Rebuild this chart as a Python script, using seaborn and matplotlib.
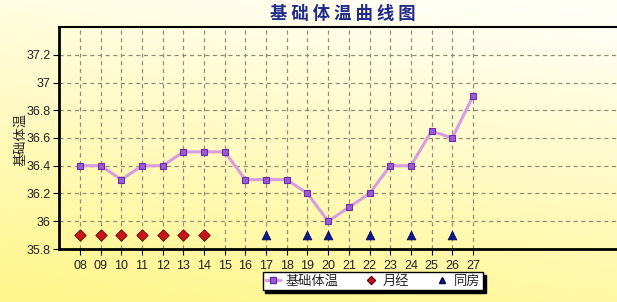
import numpy as np
import pandas as pd
import matplotlib
matplotlib.use("Agg")
import matplotlib.pyplot as plt
from matplotlib.lines import Line2D
from matplotlib.ticker import FixedLocator, FixedFormatter, NullFormatter
import seaborn as sns

# ---------------- data ----------------
days = ['08', '09', '10', '11', '12', '13', '14', '15', '16', '17',
        '18', '19', '20', '21', '22', '23', '24', '25', '26', '27']
temps = [36.4, 36.4, 36.3, 36.4, 36.4, 36.5, 36.5, 36.5, 36.3, 36.3,
         36.3, 36.2, 36.0, 36.1, 36.2, 36.4, 36.4, 36.65, 36.6, 36.9]
period_days = ['08', '09', '10', '11', '12', '13', '14']
sex_days = ['17', '19', '20', '22', '24', '26']
marker_level = 35.9
ytick_vals = [35.8, 36.0, 36.2, 36.4, 36.6, 36.8, 37.0, 37.2]
title = '基 础 体 温 曲 线 图'
ylabel = '基础体温'
legend_labels = ['基础体温', '月经', '同房']

# ---------------- style ----------------
sns.set_style("white")
plt.rcParams['font.family'] = ['Liberation Sans', 'Noto Sans CJK SC', 'DejaVu Sans']

W, H = 617, 302
fig = plt.figure(figsize=(W / 100, H / 100), dpi=100)

# gradient background
ny, nx = 200, 300
yy, xx = np.mgrid[0:1:ny * 1j, 0:1:nx * 1j]
t = np.clip(0.85 * yy + 0.25 * (1 - xx) - 0.05, 0, 1)
top = np.array([1.0, 1.0, 0.965])
bot = np.array([1.0, 0.965, 0.56])
grad = top[None, None, :] * (1 - t[..., None]) + bot[None, None, :] * t[..., None]
bg = fig.add_axes([0, 0, 1, 1], zorder=-10)
bg.imshow(grad, aspect='auto', extent=[0, 1, 0, 1], origin='upper')
bg.axis('off')

ax = fig.add_axes([59 / W, 1 - 249 / H, 1 - 59 / W, (249 - 27) / H])
ax.set_facecolor('none')

pos = list(range(len(days)))
df = pd.DataFrame({'pos': pos, 'temp': temps})
pdf = pd.DataFrame({'pos': [days.index(d) for d in period_days],
                    'y': [marker_level] * len(period_days)})
sdf = pd.DataFrame({'pos': [days.index(d) for d in sex_days],
                    'y': [marker_level] * len(sex_days)})

line_col = '#D99CE2'
sq_face = '#9B5BD6'
sq_edge = '#6A2FA8'
dia_face = '#C8151B'
dia_edge = '#6E0000'
tri_face = '#0C1A8A'

sns.lineplot(data=df, x='pos', y='temp', ax=ax, color=line_col, linewidth=2.2,
             marker='s', markersize=4.5, markerfacecolor=sq_face,
             markeredgecolor=sq_edge, markeredgewidth=0.8, legend=False, zorder=5)
sns.scatterplot(data=pdf, x='pos', y='y', ax=ax, marker='D', s=34,
                color=dia_face, edgecolor=dia_edge, linewidth=0.6, legend=False, zorder=6)
sns.scatterplot(data=sdf, x='pos', y='y', ax=ax, marker='^', s=40,
                color=tri_face, edgecolor='#000050', linewidth=0.5, legend=False, zorder=6)

unit = 20.68
ax.set_xlim(-21 / unit, (617 - 80) / unit)
ax.set_ylim(35.8, 37.4)

# grid
grid_kw = dict(color='#8F8A70', linewidth=0.85, linestyle=(0, (3.5, 3)), zorder=1)
for v in ytick_vals[1:]:
    ax.axhline(v, **grid_kw)
for p in pos:
    ax.axvline(p, **grid_kw)

ax.xaxis.set_major_locator(FixedLocator(pos))
ax.xaxis.set_major_formatter(FixedFormatter(days))
minor = np.arange(-1.0, len(days) - 1 + 0.01, 0.25)
ax.xaxis.set_minor_locator(FixedLocator(minor))
ax.xaxis.set_minor_formatter(NullFormatter())
ax.yaxis.set_major_locator(FixedLocator(ytick_vals))
ax.yaxis.set_major_formatter(FixedFormatter([f"{v:g}" for v in ytick_vals]))

ax.tick_params(axis='x', which='major', direction='out', length=4, width=0.8,
               labelsize=9, pad=4, colors='black')
ax.tick_params(axis='x', which='minor', direction='out', length=2.5, width=0.6)
ax.tick_params(axis='y', which='major', direction='out', length=4, width=0.8,
               labelsize=9, pad=2, colors='black')
ax.tick_params(axis='y', which='minor', left=False)
ax.xaxis.set_tick_params(bottom=True)
ax.yaxis.set_tick_params(left=True)
for lab in ax.get_xticklabels() + ax.get_yticklabels():
    lab.set_color('#222222')

ax.set_xlabel('')
ax.set_ylabel('')
ax.spines['left'].set_linewidth(2)
ax.spines['bottom'].set_linewidth(2)
ax.spines['top'].set_linewidth(1.5)
ax.spines['right'].set_visible(False)
for s in ['left', 'bottom', 'top']:
    ax.spines[s].set_color('black')

fig.text(21 / W, 1 - 139 / H, ylabel, rotation=90, ha='center', va='center',
         fontsize=9.5, family=['Noto Sans CJK SC', 'DejaVu Sans'])
fig.text(343 / W, 1 - 14 / H, title, ha='center', va='center', fontsize=12.5,
         fontweight='bold', color='#1F2A8C', family=['Noto Sans CJK SC', 'DejaVu Sans'])

handles = [
    Line2D([], [], color=line_col, linewidth=2, marker='s', markersize=4,
           markerfacecolor=sq_face, markeredgecolor=sq_edge),
    Line2D([], [], linestyle='none', marker='D', markersize=4,
           markerfacecolor=dia_face, markeredgecolor=dia_edge),
    Line2D([], [], linestyle='none', marker='^', markersize=5,
           markerfacecolor=tri_face, markeredgecolor='#000050'),
]
leg = fig.legend(handles, legend_labels, loc='center',
                 bbox_to_anchor=(373 / W, 1 - 281 / H), ncol=3,
                 frameon=True, fancybox=False, shadow={'color': 'black', 'alpha': 1},
                 handlelength=1.2, handletextpad=0.3, columnspacing=1.9,
                 borderpad=0.2, prop={'family': ['Noto Sans CJK SC', 'DejaVu Sans'], 'size': 9.5})
leg.get_frame().set_edgecolor('black')
leg.get_frame().set_linewidth(1)
leg.get_frame().set_facecolor('white')
leg.get_frame().set_alpha(1)

fig.savefig('out.png', dpi=100)
